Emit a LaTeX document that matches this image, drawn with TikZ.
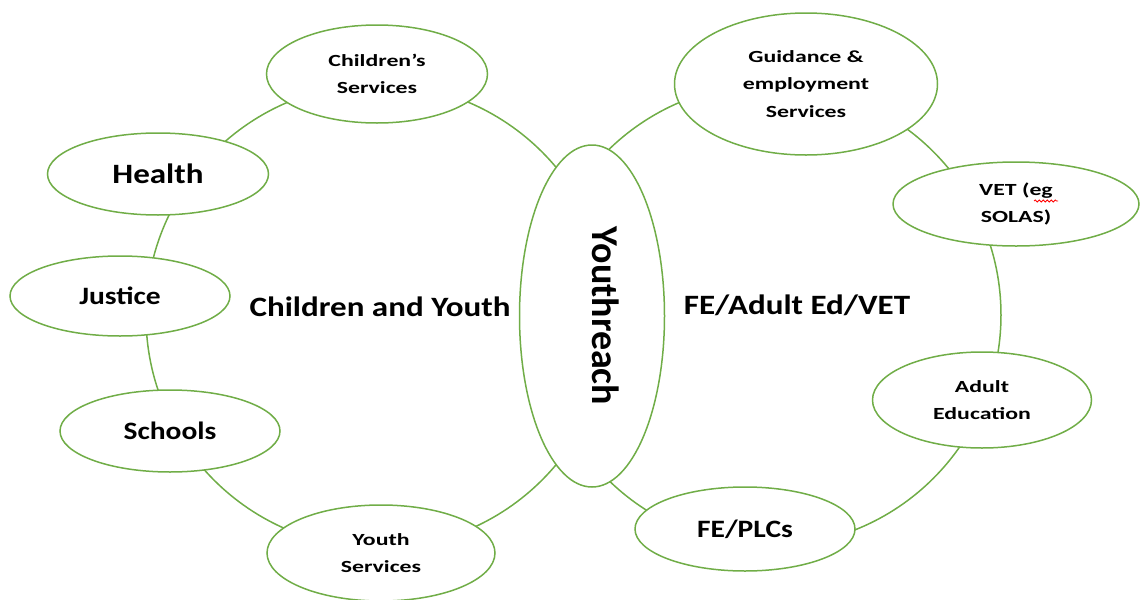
\documentclass[tikz,border=0pt]{standalone}
\usepackage{fontspec}
\setmainfont{Carlito}
\newfontfamily\widefont{Carlito}[FakeStretch=1.4]
\newfontfamily\midfont{Carlito}[FakeStretch=1.18]
\usetikzlibrary{shapes.geometric,decorations.pathmorphing}
\definecolor{leaf}{RGB}{112,173,71}
\tikzset{
  bubble/.style={ellipse, draw=leaf, line width=1.5pt, fill=white, inner sep=0pt,
    align=center, font=\widefont\bfseries\fontsize{17}{27.5}\selectfont},
  single/.style={font=\midfont\bfseries\fontsize{25}{28}\selectfont},
  ring/.style={draw=leaf, line width=1.5pt},
  area/.style={font=\midfont\bfseries\fontsize{28}{32}\selectfont}
}
\begin{document}
\begin{tikzpicture}[x=1pt,y=-1pt]
        \useasboundingbox (0,0) rectangle (1144,600);

        % the two rings
        \draw[ring] (378,316) circle (232pt);
        \draw[ring] (770,315) circle (231pt);

        % left ring
        \node[bubble, minimum width=221pt, minimum height=98pt] (childserv) at (377,74) {Children’s\\Services};
        \node[bubble, minimum width=221pt, minimum height=82pt, font=\midfont\bfseries\fontsize{28}{32}\selectfont] (health) at (158,174) {Health};
        \node[bubble, single, minimum width=220pt, minimum height=80pt] (justice) at (120,296) {Justice};
        \node[bubble, single, minimum width=220pt, minimum height=82pt] (schools) at (170,431) {Schools};
        \node[bubble, minimum width=228pt, minimum height=96pt] (youthserv) at (381,553) {Youth\\Services};

        % right ring
        \node[bubble, minimum width=263pt, minimum height=142pt] (guidance) at (806,84) {Guidance \&\\employment\\Services};
        \node[bubble, minimum width=246pt, minimum height=84pt] (vet) at (1016,204) {VET (eg\\SOLAS)};
        \node[bubble, minimum width=219pt, minimum height=96pt] (adulted) at (982,400) {Adult\\Education};
        \node[bubble, single, minimum width=220pt, minimum height=84pt] (feplc) at (745,529) {FE/PLCs};

        % middle
        \node[bubble, rotate=-90, minimum width=342pt, minimum height=145pt, text depth=28pt,
              font=\normalfont\bfseries\fontsize{38}{40}\selectfont] (youthreach) at (592,316) {Youthreach};

        \node[area] (cyouth) at (380,307) {Children and Youth};
        \node[area] (feadult) at (797,305) {FE/Adult Ed/VET};

        \draw[red, line width=0.8pt, decorate, decoration={snake, amplitude=1pt, segment length=4pt}] (1034,201) -- (1058,201);
\end{tikzpicture}
\end{document}
